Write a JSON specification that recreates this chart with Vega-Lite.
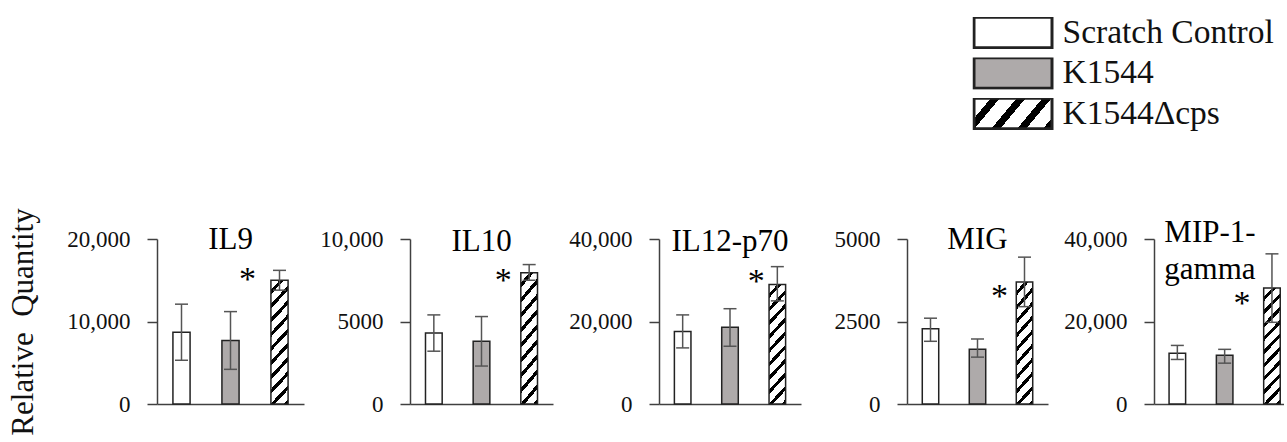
{
  "$schema": "https://vega.github.io/schema/vega-lite/v6.json",
  "background": "white",
  "padding": {"left": 7, "top": 17, "right": 0, "bottom": 0},
  "autosize": {"type": "pad"},
  "bounds": "flush",
  "spacing": 106,
  "config": {
    "view": {"stroke": null},
    "font": "Liberation Serif",
    "axis": {
      "labelFont": "Liberation Serif", "labelFontSize": 23, "labelColor": "#111",
      "domainColor": "#404040", "tickColor": "#404040", "domainWidth": 1.5, "tickWidth": 1.5,
      "grid": false, "titleFont": "Liberation Serif", "titleFontSize": 31, "titleFontWeight": "normal", "titleColor": "#111"
    },
    "axisY": {"tickSize": 10, "labelPadding": 17, "titlePadding": 27},
    "axisX": {"labels": false, "ticks": false}
  },
  "data": {"values": [
    {"panel": "IL9", "group": "Scratch Control", "value": 8700, "lo": 5300, "hi": 12100},
    {"panel": "IL9", "group": "K1544", "value": 7700, "lo": 4200, "hi": 11200},
    {"panel": "IL9", "group": "K1544Δcps", "value": 15000, "lo": 13800, "hi": 16200},
    {"panel": "IL10", "group": "Scratch Control", "value": 4300, "lo": 3200, "hi": 5400},
    {"panel": "IL10", "group": "K1544", "value": 3800, "lo": 2300, "hi": 5300},
    {"panel": "IL10", "group": "K1544Δcps", "value": 7950, "lo": 7500, "hi": 8450},
    {"panel": "IL12-p70", "group": "Scratch Control", "value": 17600, "lo": 13600, "hi": 21600},
    {"panel": "IL12-p70", "group": "K1544", "value": 18600, "lo": 14000, "hi": 23100},
    {"panel": "IL12-p70", "group": "K1544Δcps", "value": 29000, "lo": 25000, "hi": 33300},
    {"panel": "MIG", "group": "Scratch Control", "value": 2280, "lo": 1900, "hi": 2600},
    {"panel": "MIG", "group": "K1544", "value": 1660, "lo": 1420, "hi": 1970},
    {"panel": "MIG", "group": "K1544Δcps", "value": 3700, "lo": 2950, "hi": 4450},
    {"panel": "MIP-1-gamma", "group": "Scratch Control", "value": 12300, "lo": 10800, "hi": 14200},
    {"panel": "MIP-1-gamma", "group": "K1544", "value": 11800, "lo": 9900, "hi": 13250},
    {"panel": "MIP-1-gamma", "group": "K1544Δcps", "value": 28100, "lo": 19800, "hi": 36400}
  ]},
  "hconcat": [
    {
      "width": 147, "height": 165,
      "transform": [{"filter": "datum.panel === 'IL9'"}],
      "encoding": {"x": {"field": "group", "type": "nominal", "sort": ["Scratch Control", "K1544", "K1544Δcps"], "scale": {"paddingInner": 0.65, "paddingOuter": 0.325}, "axis": {"title": null}}},
      "layer": [
        {"mark": {"type": "bar", "stroke": "#222", "strokeWidth": 1.5},
         "encoding": {
           "y": {"field": "value", "type": "quantitative", "scale": {"domain": [0, 20000], "nice": false}, "axis": {"values": [0, 10000, 20000], "format": ",d", "title": "Relative\u00a0 Quantity"}},
           "fill": {"field": "group", "type": "nominal",
             "scale": {"domain": ["Scratch Control", "K1544", "K1544Δcps"], "range": ["#ffffff", "#aeaaaa", {"expr": "{gradient: 'linear', x1: 0, y1: 0, x2: 1.198, y2: 0.389, stops: [{offset: 0, color: 'white'}, {offset: 0.1625, color: 'white'}, {offset: 0.1625, color: 'black'}, {offset: 0.25, color: 'black'}, {offset: 0.25, color: 'white'}, {offset: 0.4125, color: 'white'}, {offset: 0.4125, color: 'black'}, {offset: 0.5, color: 'black'}, {offset: 0.5, color: 'white'}, {offset: 0.6625, color: 'white'}, {offset: 0.6625, color: 'black'}, {offset: 0.75, color: 'black'}, {offset: 0.75, color: 'white'}, {offset: 0.9125, color: 'white'}, {offset: 0.9125, color: 'black'}, {offset: 1, color: 'black'}]}"}]},
             "condition": {"test": "datum.group === 'K1544Δcps'", "value": {"gradient": "linear", "x1": 0, "y1": 0, "x2": 0.168, "y2": 1.124, "stops": [
{"offset":0,"color":"white"},{"offset":0.066,"color":"white"},{"offset":0.066,"color":"black"},{"offset":0.1,"color":"black"},
{"offset":0.1,"color":"white"},{"offset":0.166,"color":"white"},{"offset":0.166,"color":"black"},{"offset":0.2,"color":"black"},
{"offset":0.2,"color":"white"},{"offset":0.266,"color":"white"},{"offset":0.266,"color":"black"},{"offset":0.3,"color":"black"},
{"offset":0.3,"color":"white"},{"offset":0.366,"color":"white"},{"offset":0.366,"color":"black"},{"offset":0.4,"color":"black"},
{"offset":0.4,"color":"white"},{"offset":0.466,"color":"white"},{"offset":0.466,"color":"black"},{"offset":0.5,"color":"black"},
{"offset":0.5,"color":"white"},{"offset":0.566,"color":"white"},{"offset":0.566,"color":"black"},{"offset":0.6,"color":"black"},
{"offset":0.6,"color":"white"},{"offset":0.666,"color":"white"},{"offset":0.666,"color":"black"},{"offset":0.7,"color":"black"},
{"offset":0.7,"color":"white"},{"offset":0.766,"color":"white"},{"offset":0.766,"color":"black"},{"offset":0.8,"color":"black"},
{"offset":0.8,"color":"white"},{"offset":0.866,"color":"white"},{"offset":0.866,"color":"black"},{"offset":0.9,"color":"black"},
{"offset":0.9,"color":"white"},{"offset":0.966,"color":"white"},{"offset":0.966,"color":"black"},{"offset":1,"color":"black"}]}},
             "legend": {
               "orient": "none", "legendX": 815.5, "legendY": -222, "title": null,
               "symbolType": "M-1,-0.39H1V0.39H-1Z", "symbolSize": 6084,
               "symbolStrokeColor": "black", "symbolStrokeWidth": 3, "symbolOpacity": 1,
               "labelFont": "Liberation Serif", "labelFontSize": 33.5, "labelColor": "#111", "labelOffset": 9,
               "clipHeight": 31, "rowPadding": 6.5, "labelLimit": 400
             }
           }
         }},
        {"mark": {"type": "rule", "color": "#555", "strokeWidth": 1.5}, "encoding": {"y": {"field": "lo", "type": "quantitative"}, "y2": {"field": "hi"}}},
        {"mark": {"type": "tick", "color": "#555", "thickness": 1.5, "size": 13, "opacity": 1}, "encoding": {"y": {"field": "lo", "type": "quantitative"}}},
        {"mark": {"type": "tick", "color": "#555", "thickness": 1.5, "size": 13, "opacity": 1}, "encoding": {"y": {"field": "hi", "type": "quantitative"}}},
        {"transform": [{"filter": "datum.group === 'K1544'"}], "mark": {"type": "text", "font": "Liberation Serif", "fontSize": 31, "color": "#000", "baseline": "alphabetic"}, "encoding": {"y": {"datum": 18788, "type": "quantitative"}, "text": {"field": "panel"}}},
        {"transform": [{"filter": "datum.group === 'K1544Δcps'"}], "mark": {"type": "text", "text": "*", "font": "Liberation Serif", "fontSize": 34, "color": "#000", "baseline": "middle", "dx": -32, "dy": 6}, "encoding": {"y": {"datum": 15758, "type": "quantitative"}}}
      ]
    },
    {
      "width": 143, "height": 165,
      "transform": [{"filter": "datum.panel === 'IL10'"}],
      "encoding": {"x": {"field": "group", "type": "nominal", "sort": ["Scratch Control", "K1544", "K1544Δcps"], "scale": {"paddingInner": 0.65, "paddingOuter": 0.325}, "axis": {"title": null}}},
      "layer": [
        {"mark": {"type": "bar", "stroke": "#222", "strokeWidth": 1.5},
         "encoding": {
           "y": {"field": "value", "type": "quantitative", "scale": {"domain": [0, 10000], "nice": false}, "axis": {"values": [0, 5000, 10000], "labelExpr": "datum.value >= 10000 ? format(datum.value, ',') : format(datum.value, 'd')", "title": null}},
           "fill": {"field": "group", "type": "nominal",
             "condition": {"test": "datum.group === 'K1544Δcps'", "value": {"gradient": "linear", "x1": 0, "y1": 0, "x2": 0.168, "y2": 1.124, "stops": [
{"offset":0,"color":"white"},{"offset":0.066,"color":"white"},{"offset":0.066,"color":"black"},{"offset":0.1,"color":"black"},
{"offset":0.1,"color":"white"},{"offset":0.166,"color":"white"},{"offset":0.166,"color":"black"},{"offset":0.2,"color":"black"},
{"offset":0.2,"color":"white"},{"offset":0.266,"color":"white"},{"offset":0.266,"color":"black"},{"offset":0.3,"color":"black"},
{"offset":0.3,"color":"white"},{"offset":0.366,"color":"white"},{"offset":0.366,"color":"black"},{"offset":0.4,"color":"black"},
{"offset":0.4,"color":"white"},{"offset":0.466,"color":"white"},{"offset":0.466,"color":"black"},{"offset":0.5,"color":"black"},
{"offset":0.5,"color":"white"},{"offset":0.566,"color":"white"},{"offset":0.566,"color":"black"},{"offset":0.6,"color":"black"},
{"offset":0.6,"color":"white"},{"offset":0.666,"color":"white"},{"offset":0.666,"color":"black"},{"offset":0.7,"color":"black"},
{"offset":0.7,"color":"white"},{"offset":0.766,"color":"white"},{"offset":0.766,"color":"black"},{"offset":0.8,"color":"black"},
{"offset":0.8,"color":"white"},{"offset":0.866,"color":"white"},{"offset":0.866,"color":"black"},{"offset":0.9,"color":"black"},
{"offset":0.9,"color":"white"},{"offset":0.966,"color":"white"},{"offset":0.966,"color":"black"},{"offset":1,"color":"black"}]}}
           }
         }},
        {"mark": {"type": "rule", "color": "#555", "strokeWidth": 1.5}, "encoding": {"y": {"field": "lo", "type": "quantitative"}, "y2": {"field": "hi"}}},
        {"mark": {"type": "tick", "color": "#555", "thickness": 1.5, "size": 13, "opacity": 1}, "encoding": {"y": {"field": "lo", "type": "quantitative"}}},
        {"mark": {"type": "tick", "color": "#555", "thickness": 1.5, "size": 13, "opacity": 1}, "encoding": {"y": {"field": "hi", "type": "quantitative"}}},
        {"transform": [{"filter": "datum.group === 'K1544'"}], "mark": {"type": "text", "font": "Liberation Serif", "fontSize": 31, "color": "#000", "baseline": "alphabetic"}, "encoding": {"y": {"datum": 9290, "type": "quantitative"}, "text": {"field": "panel"}}},
        {"transform": [{"filter": "datum.group === 'K1544Δcps'"}], "mark": {"type": "text", "text": "*", "font": "Liberation Serif", "fontSize": 34, "color": "#000", "baseline": "middle", "dx": -26, "dy": 6}, "encoding": {"y": {"datum": 7818, "type": "quantitative"}}}
      ]
    },
    {
      "width": 142, "height": 165,
      "transform": [{"filter": "datum.panel === 'IL12-p70'"}],
      "encoding": {"x": {"field": "group", "type": "nominal", "sort": ["Scratch Control", "K1544", "K1544Δcps"], "scale": {"paddingInner": 0.65, "paddingOuter": 0.325}, "axis": {"title": null}}},
      "layer": [
        {"mark": {"type": "bar", "stroke": "#222", "strokeWidth": 1.5},
         "encoding": {
           "y": {"field": "value", "type": "quantitative", "scale": {"domain": [0, 40000], "nice": false}, "axis": {"values": [0, 20000, 40000], "format": ",d", "title": null}},
           "fill": {"field": "group", "type": "nominal",
             "condition": {"test": "datum.group === 'K1544Δcps'", "value": {"gradient": "linear", "x1": 0, "y1": 0, "x2": 0.168, "y2": 1.124, "stops": [
{"offset":0,"color":"white"},{"offset":0.066,"color":"white"},{"offset":0.066,"color":"black"},{"offset":0.1,"color":"black"},
{"offset":0.1,"color":"white"},{"offset":0.166,"color":"white"},{"offset":0.166,"color":"black"},{"offset":0.2,"color":"black"},
{"offset":0.2,"color":"white"},{"offset":0.266,"color":"white"},{"offset":0.266,"color":"black"},{"offset":0.3,"color":"black"},
{"offset":0.3,"color":"white"},{"offset":0.366,"color":"white"},{"offset":0.366,"color":"black"},{"offset":0.4,"color":"black"},
{"offset":0.4,"color":"white"},{"offset":0.466,"color":"white"},{"offset":0.466,"color":"black"},{"offset":0.5,"color":"black"},
{"offset":0.5,"color":"white"},{"offset":0.566,"color":"white"},{"offset":0.566,"color":"black"},{"offset":0.6,"color":"black"},
{"offset":0.6,"color":"white"},{"offset":0.666,"color":"white"},{"offset":0.666,"color":"black"},{"offset":0.7,"color":"black"},
{"offset":0.7,"color":"white"},{"offset":0.766,"color":"white"},{"offset":0.766,"color":"black"},{"offset":0.8,"color":"black"},
{"offset":0.8,"color":"white"},{"offset":0.866,"color":"white"},{"offset":0.866,"color":"black"},{"offset":0.9,"color":"black"},
{"offset":0.9,"color":"white"},{"offset":0.966,"color":"white"},{"offset":0.966,"color":"black"},{"offset":1,"color":"black"}]}}
           }
         }},
        {"mark": {"type": "rule", "color": "#555", "strokeWidth": 1.5}, "encoding": {"y": {"field": "lo", "type": "quantitative"}, "y2": {"field": "hi"}}},
        {"mark": {"type": "tick", "color": "#555", "thickness": 1.5, "size": 13, "opacity": 1}, "encoding": {"y": {"field": "lo", "type": "quantitative"}}},
        {"mark": {"type": "tick", "color": "#555", "thickness": 1.5, "size": 13, "opacity": 1}, "encoding": {"y": {"field": "hi", "type": "quantitative"}}},
        {"transform": [{"filter": "datum.group === 'K1544'"}], "mark": {"type": "text", "font": "Liberation Serif", "fontSize": 31, "color": "#000", "baseline": "alphabetic"}, "encoding": {"y": {"datum": 37164, "type": "quantitative"}, "text": {"field": "panel"}}},
        {"transform": [{"filter": "datum.group === 'K1544Δcps'"}], "mark": {"type": "text", "text": "*", "font": "Liberation Serif", "fontSize": 34, "color": "#000", "baseline": "middle", "dx": -21, "dy": 5}, "encoding": {"y": {"datum": 30715, "type": "quantitative"}}}
      ]
    },
    {
      "width": 141, "height": 165,
      "transform": [{"filter": "datum.panel === 'MIG'"}],
      "encoding": {"x": {"field": "group", "type": "nominal", "sort": ["Scratch Control", "K1544", "K1544Δcps"], "scale": {"paddingInner": 0.65, "paddingOuter": 0.325}, "axis": {"title": null}}},
      "layer": [
        {"mark": {"type": "bar", "stroke": "#222", "strokeWidth": 1.5},
         "encoding": {
           "y": {"field": "value", "type": "quantitative", "scale": {"domain": [0, 5000], "nice": false}, "axis": {"values": [0, 2500, 5000], "format": "d", "title": null}},
           "fill": {"field": "group", "type": "nominal",
             "condition": {"test": "datum.group === 'K1544Δcps'", "value": {"gradient": "linear", "x1": 0, "y1": 0, "x2": 0.168, "y2": 1.124, "stops": [
{"offset":0,"color":"white"},{"offset":0.066,"color":"white"},{"offset":0.066,"color":"black"},{"offset":0.1,"color":"black"},
{"offset":0.1,"color":"white"},{"offset":0.166,"color":"white"},{"offset":0.166,"color":"black"},{"offset":0.2,"color":"black"},
{"offset":0.2,"color":"white"},{"offset":0.266,"color":"white"},{"offset":0.266,"color":"black"},{"offset":0.3,"color":"black"},
{"offset":0.3,"color":"white"},{"offset":0.366,"color":"white"},{"offset":0.366,"color":"black"},{"offset":0.4,"color":"black"},
{"offset":0.4,"color":"white"},{"offset":0.466,"color":"white"},{"offset":0.466,"color":"black"},{"offset":0.5,"color":"black"},
{"offset":0.5,"color":"white"},{"offset":0.566,"color":"white"},{"offset":0.566,"color":"black"},{"offset":0.6,"color":"black"},
{"offset":0.6,"color":"white"},{"offset":0.666,"color":"white"},{"offset":0.666,"color":"black"},{"offset":0.7,"color":"black"},
{"offset":0.7,"color":"white"},{"offset":0.766,"color":"white"},{"offset":0.766,"color":"black"},{"offset":0.8,"color":"black"},
{"offset":0.8,"color":"white"},{"offset":0.866,"color":"white"},{"offset":0.866,"color":"black"},{"offset":0.9,"color":"black"},
{"offset":0.9,"color":"white"},{"offset":0.966,"color":"white"},{"offset":0.966,"color":"black"},{"offset":1,"color":"black"}]}}
           }
         }},
        {"mark": {"type": "rule", "color": "#555", "strokeWidth": 1.5}, "encoding": {"y": {"field": "lo", "type": "quantitative"}, "y2": {"field": "hi"}}},
        {"mark": {"type": "tick", "color": "#555", "thickness": 1.5, "size": 13, "opacity": 1}, "encoding": {"y": {"field": "lo", "type": "quantitative"}}},
        {"mark": {"type": "tick", "color": "#555", "thickness": 1.5, "size": 13, "opacity": 1}, "encoding": {"y": {"field": "hi", "type": "quantitative"}}},
        {"transform": [{"filter": "datum.group === 'K1544'"}], "mark": {"type": "text", "font": "Liberation Serif", "fontSize": 31, "color": "#000", "baseline": "alphabetic"}, "encoding": {"y": {"datum": 4697, "type": "quantitative"}, "text": {"field": "panel"}}},
        {"transform": [{"filter": "datum.group === 'K1544Δcps'"}], "mark": {"type": "text", "text": "*", "font": "Liberation Serif", "fontSize": 34, "color": "#000", "baseline": "middle", "dx": -25, "dy": 6}, "encoding": {"y": {"datum": 3433, "type": "quantitative"}}}
      ]
    },
    {
      "width": 130, "height": 165,
      "transform": [{"filter": "datum.panel === 'MIP-1-gamma'"}],
      "encoding": {"x": {"field": "group", "type": "nominal", "sort": ["Scratch Control", "K1544", "K1544Δcps"], "scale": {"paddingInner": 0.65, "paddingOuter": 0.199, "align": 0.8}, "axis": {"title": null}}},
      "layer": [
        {"mark": {"type": "bar", "stroke": "#222", "strokeWidth": 1.5},
         "encoding": {
           "y": {"field": "value", "type": "quantitative", "scale": {"domain": [0, 40000], "nice": false}, "axis": {"values": [0, 20000, 40000], "format": ",d", "title": null}},
           "fill": {"field": "group", "type": "nominal",
             "condition": {"test": "datum.group === 'K1544Δcps'", "value": {"gradient": "linear", "x1": 0, "y1": 0, "x2": 0.168, "y2": 1.124, "stops": [
{"offset":0,"color":"white"},{"offset":0.066,"color":"white"},{"offset":0.066,"color":"black"},{"offset":0.1,"color":"black"},
{"offset":0.1,"color":"white"},{"offset":0.166,"color":"white"},{"offset":0.166,"color":"black"},{"offset":0.2,"color":"black"},
{"offset":0.2,"color":"white"},{"offset":0.266,"color":"white"},{"offset":0.266,"color":"black"},{"offset":0.3,"color":"black"},
{"offset":0.3,"color":"white"},{"offset":0.366,"color":"white"},{"offset":0.366,"color":"black"},{"offset":0.4,"color":"black"},
{"offset":0.4,"color":"white"},{"offset":0.466,"color":"white"},{"offset":0.466,"color":"black"},{"offset":0.5,"color":"black"},
{"offset":0.5,"color":"white"},{"offset":0.566,"color":"white"},{"offset":0.566,"color":"black"},{"offset":0.6,"color":"black"},
{"offset":0.6,"color":"white"},{"offset":0.666,"color":"white"},{"offset":0.666,"color":"black"},{"offset":0.7,"color":"black"},
{"offset":0.7,"color":"white"},{"offset":0.766,"color":"white"},{"offset":0.766,"color":"black"},{"offset":0.8,"color":"black"},
{"offset":0.8,"color":"white"},{"offset":0.866,"color":"white"},{"offset":0.866,"color":"black"},{"offset":0.9,"color":"black"},
{"offset":0.9,"color":"white"},{"offset":0.966,"color":"white"},{"offset":0.966,"color":"black"},{"offset":1,"color":"black"}]}}
           }
         }},
        {"mark": {"type": "rule", "color": "#555", "strokeWidth": 1.5}, "encoding": {"y": {"field": "lo", "type": "quantitative"}, "y2": {"field": "hi"}}},
        {"mark": {"type": "tick", "color": "#555", "thickness": 1.5, "size": 13, "opacity": 1}, "encoding": {"y": {"field": "lo", "type": "quantitative"}}},
        {"mark": {"type": "tick", "color": "#555", "thickness": 1.5, "size": 13, "opacity": 1}, "encoding": {"y": {"field": "hi", "type": "quantitative"}}},
        {"transform": [{"filter": "datum.group === 'Scratch Control'"}], "mark": {"type": "text", "font": "Liberation Serif", "fontSize": 31, "color": "#000", "baseline": "alphabetic", "align": "left", "dx": -13, "lineHeight": 37, "text": ["MIP-1-", "gamma"]}, "encoding": {"y": {"datum": 39273, "type": "quantitative"}}},
        {"transform": [{"filter": "datum.group === 'K1544Δcps'"}], "mark": {"type": "text", "text": "*", "font": "Liberation Serif", "fontSize": 34, "color": "#000", "baseline": "middle", "dx": -30, "dy": 10}, "encoding": {"y": {"datum": 26667, "type": "quantitative"}}}
      ]
    }
  ]
}
